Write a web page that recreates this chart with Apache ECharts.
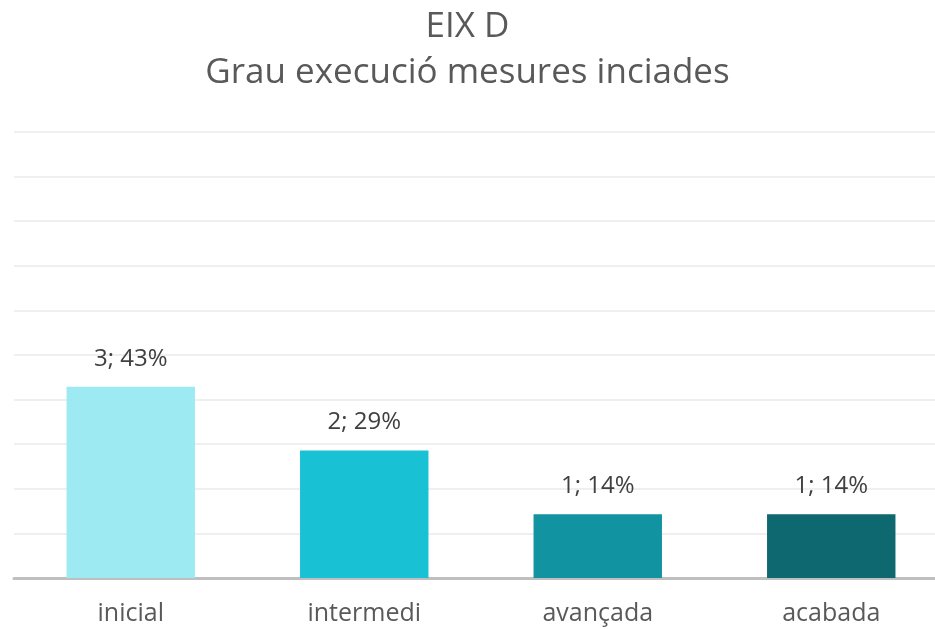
<!DOCTYPE html>
<html>
<head>
<meta charset="utf-8">
<script src="https://cdn.jsdelivr.net/npm/echarts@6/dist/echarts.min.js"></script>
<style>
html,body{margin:0;padding:0;background:#fff;}
#chart{width:935px;height:629px;}
</style>
</head>
<body>
<div id="chart"></div>
<script>
var categories=['inicial','intermedi','avançada','acabada'];
var counts=[3,2,1,1];
var barColors=['#9deaf3','#19c1d4','#1293a1','#0e6870'];

var total=0;
for(var i in counts){ total+=counts[i]; }

var myChart=echarts.init(document.getElementById('chart'));
var option={
    title:{
        text:'EIX D\nGrau execució mesures inciades',
        left:'center',
        top:-1,
        textStyle:{
            fontFamily:'Open Sans',
            fontSize:35,
            fontWeight:'normal',
            color:'#595959',
            lineHeight:46
        }
    },
    grid:{
        left:14,
        right:-13,
        top:132,
        bottom:51,
        outerBoundsMode:'none'
    },
    xAxis:{
        type:'category',
        data:categories,
        axisTick:{show:false},
        axisLine:{lineStyle:{color:'#bfbfbf',width:3}},
        axisLabel:{
            margin:23,
            fontFamily:'Open Sans',
            fontSize:25,
            color:'#595959'
        }
    },
    yAxis:{
        type:'value',
        min:0,
        max:100,
        interval:10,
        axisLabel:{show:false},
        axisLine:{show:false},
        splitLine:{lineStyle:{color:'#efefef',width:2}}
    },
    series:[{
        type:'bar',
        barWidth:'55%',
        data:counts.map(function(c,i){
            return {value:c/total*100,count:c,itemStyle:{color:barColors[i]}};
        }),
        label:{
            show:true,
            position:'top',
            distance:16,
            fontFamily:'Open Sans',
            fontSize:24,
            color:'#404040',
            formatter:function(p){
                return p.data.count+'; '+Math.round(p.value)+'%';
            }
        }
    }]
};
myChart.setOption(option);
</script>
</body>
</html>
